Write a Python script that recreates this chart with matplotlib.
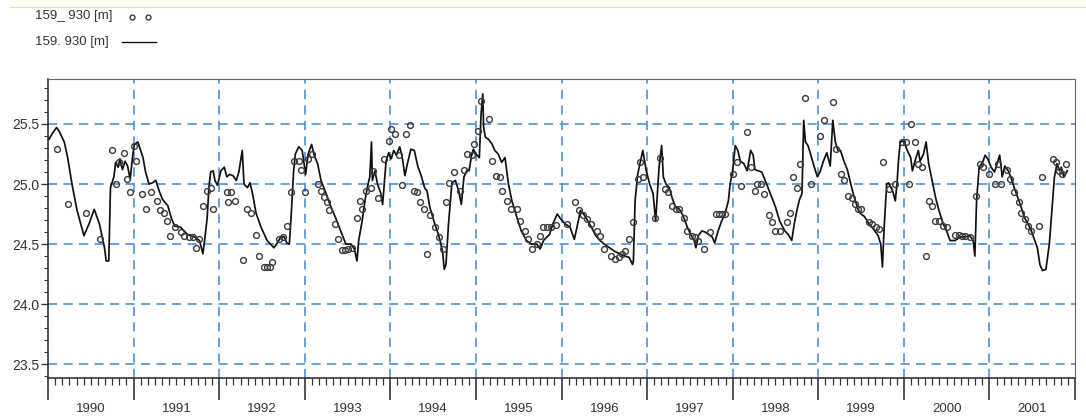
import numpy as np
import matplotlib
matplotlib.use("Agg")
import matplotlib.pyplot as plt
import matplotlib.transforms as mtransforms
from matplotlib.lines import Line2D
from matplotlib.ticker import MultipleLocator

# simulated level (line), decimal year / metres
line_years = [
    1990.00, 1990.01, 1990.05, 1990.10, 1990.13, 1990.19, 1990.23, 1990.28, 1990.34, 1990.42,
    1990.48, 1990.54, 1990.60, 1990.66, 1990.68, 1990.71, 1990.73, 1990.77, 1990.79, 1990.82,
    1990.84, 1990.87, 1990.90, 1990.93, 1990.96, 1990.99, 1991.01, 1991.05, 1991.11, 1991.14,
    1991.18, 1991.22, 1991.26, 1991.30, 1991.34, 1991.40, 1991.44, 1991.48, 1991.55, 1991.63,
    1991.71, 1991.77, 1991.81, 1991.83, 1991.86, 1991.88, 1991.90, 1991.93, 1991.95, 1991.98,
    1992.02, 1992.06, 1992.09, 1992.12, 1992.16, 1992.20, 1992.23, 1992.27, 1992.29, 1992.33,
    1992.36, 1992.39, 1992.43, 1992.49, 1992.56, 1992.64, 1992.68, 1992.72, 1992.76, 1992.79,
    1992.82, 1992.84, 1992.87, 1992.89, 1992.93, 1992.97, 1993.01, 1993.04, 1993.08, 1993.11,
    1993.15, 1993.19, 1993.25, 1993.30, 1993.36, 1993.42, 1993.48, 1993.54, 1993.58, 1993.61,
    1993.63, 1993.67, 1993.71, 1993.74, 1993.76, 1993.78, 1993.79, 1993.82, 1993.85, 1993.89,
    1993.91, 1993.95, 1993.98, 1994.01, 1994.04, 1994.07, 1994.11, 1994.14, 1994.17, 1994.20,
    1994.24, 1994.28, 1994.32, 1994.36, 1994.40, 1994.43, 1994.46, 1994.51, 1994.57, 1994.61,
    1994.63, 1994.65, 1994.68, 1994.72, 1994.76, 1994.80, 1994.83, 1994.86, 1994.90, 1994.92,
    1994.95, 1994.97, 1995.00, 1995.04, 1995.06, 1995.08, 1995.09, 1995.11, 1995.15, 1995.19,
    1995.22, 1995.26, 1995.30, 1995.34, 1995.38, 1995.42, 1995.48, 1995.53, 1995.59, 1995.65,
    1995.71, 1995.75, 1995.79, 1995.83, 1995.86, 1995.90, 1995.95, 1995.99, 1996.04, 1996.10,
    1996.15, 1996.19, 1996.22, 1996.26, 1996.31, 1996.35, 1996.40, 1996.45, 1996.50, 1996.56,
    1996.62, 1996.68, 1996.74, 1996.79, 1996.83, 1996.84, 1996.86, 1996.89, 1996.92, 1996.95,
    1996.99, 1997.03, 1997.07, 1997.10, 1997.14, 1997.17, 1997.19, 1997.22, 1997.26, 1997.29,
    1997.33, 1997.39, 1997.43, 1997.47, 1997.51, 1997.55, 1997.57, 1997.60, 1997.64, 1997.68,
    1997.72, 1997.76, 1997.79, 1997.83, 1997.87, 1997.91, 1997.95, 1997.97, 1998.00, 1998.03,
    1998.06, 1998.09, 1998.13, 1998.17, 1998.21, 1998.24, 1998.26, 1998.30, 1998.34, 1998.38,
    1998.44, 1998.50, 1998.55, 1998.61, 1998.65, 1998.69, 1998.72, 1998.75, 1998.78, 1998.81,
    1998.83, 1998.85, 1998.88, 1998.91, 1998.95, 1998.99, 1999.02, 1999.06, 1999.10, 1999.14,
    1999.17, 1999.20, 1999.23, 1999.26, 1999.30, 1999.34, 1999.38, 1999.42, 1999.47, 1999.50,
    1999.54, 1999.59, 1999.63, 1999.66, 1999.70, 1999.73, 1999.75, 1999.77, 1999.80, 1999.82,
    1999.85, 1999.87, 1999.90, 1999.92, 1999.94, 1999.96, 2000.00, 2000.04, 2000.08, 2000.10,
    2000.13, 2000.17, 2000.19, 2000.23, 2000.26, 2000.29, 2000.33, 2000.37, 2000.41, 2000.46,
    2000.50, 2000.54, 2000.60, 2000.66, 2000.71, 2000.77, 2000.81, 2000.83, 2000.85, 2000.88,
    2000.92, 2000.95, 2000.98, 2001.02, 2001.06, 2001.09, 2001.12, 2001.15, 2001.18, 2001.22,
    2001.26, 2001.29, 2001.33, 2001.37, 2001.41, 2001.45, 2001.49, 2001.53, 2001.56, 2001.59,
    2001.62, 2001.66, 2001.70, 2001.73, 2001.76, 2001.79, 2001.82, 2001.84, 2001.87, 2001.91,
]
line_vals = [
    25.38, 25.37, 25.42, 25.47, 25.44, 25.35, 25.22, 25.00, 24.78, 24.57,
    24.67, 24.79, 24.67, 24.47, 24.36, 24.36, 24.97, 25.06, 25.18, 25.14,
    25.21, 25.12, 25.19, 25.15, 25.04, 25.24, 25.33, 25.35, 25.22, 25.10,
    25.00, 25.01, 25.03, 24.94, 24.87, 24.82, 24.72, 24.65, 24.64, 24.58,
    24.56, 24.53, 24.42, 24.53, 24.72, 24.97, 25.10, 25.11, 25.03, 24.99,
    25.11, 25.14, 25.06, 25.08, 25.07, 25.03, 25.10, 25.28, 25.00, 24.97,
    25.01, 24.92, 24.76, 24.64, 24.53, 24.47, 24.51, 24.56, 24.56, 24.51,
    24.50, 24.72, 25.11, 25.25, 25.31, 25.28, 25.08, 25.25, 25.33, 25.24,
    25.17, 25.03, 24.92, 24.82, 24.72, 24.61, 24.50, 24.50, 24.46, 24.36,
    24.53, 24.69, 24.89, 25.00, 25.06, 25.35, 25.03, 25.11, 25.00, 24.92,
    24.83, 25.19, 25.26, 25.21, 25.28, 25.24, 25.31, 25.22, 25.07, 25.17,
    25.29, 25.28, 25.15, 25.07, 24.97, 24.94, 24.81, 24.69, 24.56, 24.44,
    24.29, 24.33, 24.67, 25.01, 25.03, 24.94, 24.83, 25.06, 25.12, 25.11,
    25.24, 25.29, 25.25, 25.22, 25.58, 25.75, 25.47, 25.39, 25.37, 25.33,
    25.28, 25.25, 25.18, 25.22, 25.00, 24.86, 24.72, 24.61, 24.53, 24.50,
    24.50, 24.46, 24.53, 24.56, 24.58, 24.67, 24.75, 24.71, 24.67, 24.64,
    24.54, 24.67, 24.78, 24.75, 24.69, 24.64, 24.57, 24.53, 24.50, 24.47,
    24.44, 24.42, 24.40, 24.39, 24.33, 24.36, 24.86, 25.08, 25.18, 25.28,
    25.11, 25.00, 24.92, 24.69, 25.14, 25.32, 25.06, 25.00, 24.97, 24.89,
    24.81, 24.78, 24.72, 24.64, 24.58, 24.53, 24.47, 24.57, 24.61, 24.60,
    24.58, 24.56, 24.51, 24.61, 24.69, 24.75, 24.86, 25.00, 25.11, 25.32,
    25.28, 25.19, 25.17, 25.11, 25.28, 25.24, 25.12, 25.11, 25.10, 25.03,
    24.92, 24.81, 24.69, 24.61, 24.58, 24.53, 24.67, 24.78, 24.87, 24.92,
    25.53, 25.35, 25.32, 25.25, 25.15, 25.06, 25.10, 25.19, 25.26, 25.15,
    25.53, 25.35, 25.28, 25.28, 25.19, 25.12, 25.00, 24.89, 24.78, 24.75,
    24.73, 24.67, 24.64, 24.61, 24.57, 24.50, 24.31, 24.64, 25.00, 25.01,
    24.97, 24.94, 24.86, 25.00, 25.22, 25.35, 25.36, 25.28, 25.22, 25.11,
    25.19, 25.28, 25.19, 25.25, 25.35, 25.17, 25.03, 24.89, 24.78, 24.67,
    24.61, 24.53, 24.53, 24.56, 24.56, 24.57, 24.53, 24.40, 24.86, 25.14,
    25.18, 25.24, 25.21, 25.14, 25.10, 25.17, 25.24, 25.06, 25.15, 25.11,
    25.04, 24.97, 24.89, 24.81, 24.72, 24.67, 24.61, 24.53, 24.47, 24.33,
    24.28, 24.29, 24.50, 24.78, 25.06, 25.17, 25.11, 25.14, 25.06, 25.11,
]

# observed level (circles)
pt_years = [
    1990.11, 1990.23, 1990.44, 1990.61, 1990.75, 1990.79, 1990.83, 1990.89, 1990.92, 1990.96,
    1991.00, 1991.03, 1991.10, 1991.14, 1991.20, 1991.27, 1991.31, 1991.35, 1991.39, 1991.42,
    1991.48, 1991.55, 1991.59, 1991.65, 1991.69, 1991.73, 1991.77, 1991.81, 1991.86, 1991.91,
    1991.93, 1992.09, 1992.14, 1992.10, 1992.18, 1992.28, 1992.32, 1992.37, 1992.43, 1992.47,
    1992.52, 1992.56, 1992.59, 1992.62, 1992.70, 1992.75, 1992.79, 1992.84, 1992.88, 1992.93,
    1992.96, 1993.00, 1993.04, 1993.09, 1993.16, 1993.19, 1993.23, 1993.26, 1993.28, 1993.35,
    1993.39, 1993.43, 1993.47, 1993.51, 1993.55, 1993.61, 1993.65, 1993.67, 1993.72, 1993.77,
    1993.80, 1993.86, 1993.93, 1993.98, 1994.01, 1994.05, 1994.10, 1994.14, 1994.18, 1994.23,
    1994.28, 1994.31, 1994.35, 1994.39, 1994.46, 1994.52, 1994.57, 1994.43, 1994.61, 1994.65,
    1994.68, 1994.74, 1994.81, 1994.86, 1994.90, 1994.95, 1994.98, 1995.03, 1995.06, 1995.15,
    1995.19, 1995.24, 1995.28, 1995.31, 1995.36, 1995.41, 1995.48, 1995.52, 1995.57, 1995.61,
    1995.66, 1995.71, 1995.75, 1995.78, 1995.83, 1995.88, 1995.94, 1996.07, 1996.16, 1996.21,
    1996.25, 1996.30, 1996.35, 1996.41, 1996.45, 1996.50, 1996.58, 1996.63, 1996.67, 1996.71,
    1996.74, 1996.79, 1996.83, 1996.89, 1996.92, 1996.95, 1997.09, 1997.15, 1997.21, 1997.25,
    1997.29, 1997.34, 1997.37, 1997.43, 1997.47, 1997.52, 1997.56, 1997.60, 1997.67, 1997.74,
    1997.80, 1997.84, 1997.88, 1997.91, 1998.00, 1998.05, 1998.10, 1998.17, 1998.22, 1998.26,
    1998.29, 1998.33, 1998.37, 1998.42, 1998.46, 1998.49, 1998.55, 1998.63, 1998.67, 1998.71,
    1998.75, 1998.79, 1998.84, 1998.92, 1999.02, 1999.07, 1999.17, 1999.21, 1999.27, 1999.30,
    1999.35, 1999.39, 1999.43, 1999.47, 1999.50, 1999.59, 1999.63, 1999.67, 1999.71, 1999.76,
    1999.83, 1999.90, 1999.98, 2000.02, 2000.06, 2000.08, 2000.13, 2000.17, 2000.21, 2000.26,
    2000.29, 2000.33, 2000.37, 2000.41, 2000.46, 2000.51, 2000.60, 2000.64, 2000.68, 2000.72,
    2000.77, 2000.84, 2000.89, 2000.93, 2001.00, 2001.07, 2001.10, 2001.14, 2001.20, 2001.24,
    2001.29, 2001.34, 2001.37, 2001.41, 2001.45, 2001.49, 2001.58, 2001.62, 2001.74, 2001.78,
    2001.81, 2001.85, 2001.89,
]
pt_vals = [
    25.29, 24.83, 24.76, 24.54, 25.28, 25.00, 25.18, 25.26, 25.04, 24.93,
    25.32, 25.19, 24.92, 24.79, 24.93, 24.86, 24.78, 24.76, 24.69, 24.57,
    24.64, 24.60, 24.57, 24.56, 24.56, 24.47, 24.54, 24.82, 24.94, 24.97,
    24.79, 24.93, 24.93, 24.85, 24.86, 24.37, 24.79, 24.76, 24.58, 24.40,
    24.31, 24.31, 24.31, 24.35, 24.54, 24.56, 24.65, 24.93, 25.19, 25.19,
    25.12, 24.93, 25.21, 25.25, 25.00, 24.94, 24.89, 24.85, 24.78, 24.67,
    24.54, 24.45, 24.45, 24.46, 24.47, 24.72, 24.86, 24.79, 24.94, 24.97,
    25.11, 24.88, 25.21, 25.36, 25.46, 25.42, 25.24, 24.99, 25.42, 25.49,
    24.94, 24.93, 24.85, 24.79, 24.74, 24.64, 24.56, 24.42, 24.46, 24.85,
    25.01, 25.10, 24.94, 25.12, 25.25, 25.24, 25.33, 25.44, 25.69, 25.54,
    25.19, 25.07, 25.06, 24.94, 24.86, 24.79, 24.79, 24.69, 24.61, 24.54,
    24.46, 24.50, 24.57, 24.64, 24.64, 24.64, 24.66, 24.67, 24.85, 24.78,
    24.74, 24.71, 24.67, 24.61, 24.57, 24.46, 24.40, 24.38, 24.39, 24.42,
    24.44, 24.54, 24.68, 25.04, 25.18, 25.06, 24.72, 25.22, 24.96, 24.93,
    24.82, 24.79, 24.79, 24.72, 24.61, 24.57, 24.56, 24.53, 24.46, 24.60,
    24.75, 24.75, 24.75, 24.75, 25.08, 25.18, 24.98, 25.43, 25.14, 24.94,
    25.00, 25.00, 24.92, 24.74, 24.68, 24.61, 24.61, 24.68, 24.76, 25.06,
    24.97, 25.17, 25.72, 25.00, 25.40, 25.53, 25.68, 25.29, 25.08, 25.03,
    24.90, 24.88, 24.83, 24.79, 24.79, 24.68, 24.67, 24.64, 24.63, 25.18,
    24.96, 25.00, 25.35, 25.35, 25.00, 25.50, 25.35, 25.17, 25.14, 24.40,
    24.86, 24.82, 24.69, 24.69, 24.65, 24.64, 24.58, 24.58, 24.57, 24.57,
    24.56, 24.90, 25.17, 25.14, 25.08, 25.00, 25.17, 25.00, 25.12, 25.04,
    24.93, 24.85, 24.76, 24.71, 24.65, 24.61, 24.65, 25.06, 25.21, 25.18,
    25.11, 25.08, 25.17,
]

years = list(range(1990, 2002))
legend_labels = ["159_ 930 [m]", "159. 930 [m]"]

plt.rcParams["font.family"] = ["Liberation Sans Narrow", "Liberation Sans", "DejaVu Sans"]

fig = plt.figure(figsize=(10.86, 4.17), dpi=100)
ax = fig.add_axes([48 / 1086, 1 - 378 / 417, (1075 - 48) / 1086, (378 - 79) / 417])

grid_color = "#4a90d9"

# grid
for y in [23.5, 24.0, 24.5, 25.0, 25.5]:
    ax.axhline(y, color=grid_color, lw=1.2, ls=(0, (5.5, 3.8)), zorder=1)
for yr in years[1:]:
    ax.axvline(yr, color=grid_color, lw=1.2, ls=(0, (5.5, 3.8)), zorder=1)

ax.plot(line_years, line_vals, color="#111111", lw=1.25, zorder=3)
ax.plot(pt_years, pt_vals, ls="none", marker="o", ms=4.2, mfc="none",
        mec="#3a3a3a", mew=1.0, zorder=4)

ax.set_xlim(1990.0, 2001.92)
ax.set_ylim(23.386, 25.874)

# x axis: year boundaries + monthly ticks, labels at mid-year
ax.set_xticks(years + [2002])
ax.set_xticklabels([])
ax.xaxis.set_minor_locator(MultipleLocator(1 / 12))
ax.tick_params(axis="x", which="major", length=16, width=1.2, color="#333333", direction="out")
ax.tick_params(axis="x", which="minor", length=5, width=0.9, color="#333333", direction="out")
trans = mtransforms.blended_transform_factory(ax.transData, ax.transAxes)
for yr in years:
    ax.text(yr + 0.5, -0.083, str(yr), transform=trans, ha="center", va="top",
            fontsize=9.5, color="#333333")

# y axis
ax.set_yticks([23.5, 24.0, 24.5, 25.0, 25.5])
ax.set_yticklabels(["23.5", "24.0", "24.5", "25.0", "25.5"])
ax.yaxis.set_minor_locator(MultipleLocator(0.1))
ax.tick_params(axis="y", which="major", length=5, width=1.0, color="#333333",
               labelsize=10, labelcolor="#333333", pad=1)
ax.tick_params(axis="y", which="minor", length=3, width=0.8, color="#333333")

for side in ["top", "right"]:
    ax.spines[side].set_color("#666666")
ax.spines["left"].set_color("#333333")
ax.spines["bottom"].set_color("#333333")
ax.spines["left"].set_linewidth(1.2)
ax.spines["bottom"].set_linewidth(1.2)

# legend above the axes
fig.text(35 / 1086, 1 - 16 / 417, legend_labels[0], fontsize=9.5, color="#333333", va="center")
fig.text(35 / 1086, 1 - 42 / 417, legend_labels[1], fontsize=9.5, color="#333333", va="center")
fig.add_artist(Line2D([132 / 1086, 148 / 1086], [1 - 17 / 417, 1 - 17 / 417],
                      transform=fig.transFigure, ls="none", marker="o", ms=3.5,
                      mfc="none", mec="#3a3a3a", mew=1.0))
fig.add_artist(Line2D([122 / 1086, 156 / 1086], [1 - 42 / 417, 1 - 42 / 417],
                      transform=fig.transFigure, color="#111111", lw=1.0))
fig.add_artist(Line2D([10 / 1086, 1.0], [1 - 6.5 / 417, 1 - 6.5 / 417],
                      transform=fig.transFigure, color="#f2ea7a", lw=0.8))

fig.savefig("out.png", dpi=100)
